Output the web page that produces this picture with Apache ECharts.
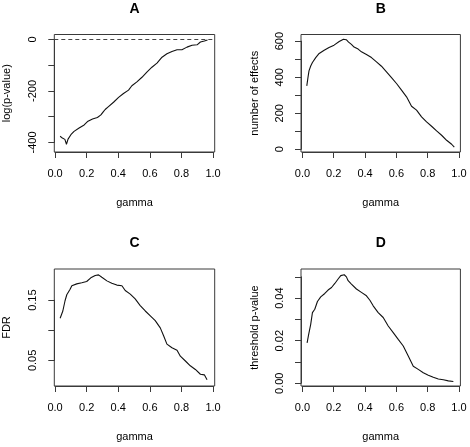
<!DOCTYPE html>
<html><head><meta charset="utf-8">
<script src="https://cdn.jsdelivr.net/npm/echarts@6/dist/echarts.min.js"></script>
<style>html,body{margin:0;padding:0;background:#fff}#c{width:470px;height:447px}</style>
</head><body><div id="c"></div>
<script>
// ---- data ----
const gammaA = [0.032,0.046,0.057,0.062,0.072,0.082,0.1,0.12,0.152,0.184,0.205,0.237,0.268,0.29,0.306,0.317,0.338,0.37,0.402,0.433,0.465,0.486,0.518,0.55,0.581,0.613,0.645,0.677,0.708,0.74,0.772,0.803,0.835,0.867,0.899,0.92,0.945,0.965];
const logP   = [-376,-383,-390,-388,-407,-387,-370,-357,-344,-332,-319,-309,-303,-293,-280,-272,-261,-244,-225,-210,-197,-180,-165,-147,-127,-108,-92,-69,-56,-47,-40,-40,-30,-23,-21,-10,-6,-2];

const gammaB = [0.028,0.035,0.042,0.053,0.064,0.085,0.107,0.139,0.17,0.202,0.235,0.262,0.28,0.295,0.313,0.33,0.356,0.377,0.409,0.441,0.473,0.505,0.537,0.569,0.601,0.633,0.665,0.697,0.729,0.761,0.793,0.825,0.857,0.889,0.921,0.953,0.97];
const effects = [352,395,435,462,482,509,532,550,565,578,598,611,608,595,582,567,556,541,526,509,485,461,430,398,365,328,291,239,217,180,152,128,102,78,50,28,12];

const gammaC = [0.032,0.049,0.063,0.074,0.095,0.106,0.137,0.169,0.2,0.226,0.254,0.275,0.296,0.328,0.359,0.391,0.423,0.444,0.476,0.507,0.539,0.571,0.603,0.634,0.666,0.687,0.708,0.74,0.772,0.793,0.825,0.856,0.888,0.92,0.945,0.962];
const fdr = [0.12,0.132,0.149,0.159,0.168,0.174,0.177,0.179,0.181,0.187,0.191,0.192,0.188,0.182,0.178,0.175,0.174,0.166,0.16,0.152,0.141,0.132,0.124,0.116,0.104,0.091,0.077,0.071,0.067,0.057,0.049,0.041,0.035,0.027,0.026,0.018];

const gammaD = [0.03,0.04,0.053,0.064,0.079,0.096,0.117,0.143,0.164,0.186,0.207,0.228,0.245,0.267,0.281,0.292,0.313,0.345,0.377,0.409,0.431,0.452,0.484,0.516,0.548,0.58,0.612,0.644,0.676,0.708,0.74,0.772,0.804,0.836,0.868,0.9,0.932,0.964];
const thresh = [0.019,0.023,0.0277,0.0332,0.0348,0.0384,0.0406,0.0422,0.0438,0.045,0.0469,0.049,0.0506,0.051,0.05,0.0482,0.0466,0.0443,0.0427,0.0411,0.039,0.0364,0.0332,0.0309,0.0269,0.0238,0.0206,0.0175,0.0128,0.008,0.0065,0.0049,0.0038,0.0028,0.002,0.0016,0.0011,0.0008];

const panelTitles = ['A','B','C','D'];
const yNames = ['log(p-value)','number of effects','FDR','threshold p-value'];
const xName = 'gamma';
const xTicks = {min:0, max:1, step:0.2};
const yTicksA = {min:-400, max:0, step:100};
const yTicksB = {min:0, max:600, step:100};
const yTicksC = {min:0.05, max:0.15, step:0.05};
const yTicksD = {min:0, max:0.05, step:0.01};

// ---- layout ----
const FONT = 'Liberation Sans, Arial, sans-serif';
const AX = '#3a3a3a';
const panels = [
  {box:[54.3,34.5,160.4,117.5], xr:[-0.005,1.0105], yr:[-437,19], yt:yTicksA, dec:0, gx:gammaA, gy:logP, nameGap:41.5, dashed:true},
  {box:[301,34.5,159.4,117.5], xr:[-0.009,1.009], yr:[-15,637], yt:yTicksB, dec:0, gx:gammaB, gy:effects, nameGap:40.5},
  {box:[54.3,269,160.4,117], xr:[-0.005,1.0105], yr:[0.0075,0.2017], yt:yTicksC, dec:2, gx:gammaC, gy:fdr, nameGap:41.5},
  {box:[301,269,159.4,117], xr:[-0.009,1.009], yr:[-0.0013,0.0537], yt:yTicksD, dec:2, gx:gammaD, gy:thresh, nameGap:40.5}
];

const grid=[], xAxis=[], yAxis=[], series=[], graphic=[];
const txt = {color:'#000', fontFamily:FONT, fontSize:11};
const hiddenAxis = (gi, min, max) => ({type:'value', gridIndex:gi, min, max, show:false});
panels.forEach((p,i)=>{
  const [L,T,W,H] = p.box;
  const g0 = grid.length;
  grid.push({left:L, top:T, width:W, height:H, show:true, borderColor:AX, borderWidth:1, backgroundColor:'transparent', containLabel:false, outerBoundsMode:'none'});
  const xs = W/(p.xr[1]-p.xr[0]);
  grid.push({left:L+(xTicks.min-p.xr[0])*xs, top:T, width:(xTicks.max-xTicks.min)*xs, height:H, containLabel:false, outerBoundsMode:'none'});
  const ys = H/(p.yr[1]-p.yr[0]);
  grid.push({left:L, top:T+(p.yr[1]-p.yt.max)*ys, width:W, height:(p.yt.max-p.yt.min)*ys, containLabel:false, outerBoundsMode:'none'});

  const xi = xAxis.length, yi = yAxis.length;
  xAxis.push({type:'value', gridIndex:g0, min:p.xr[0], max:p.xr[1], axisLine:{show:false}, axisTick:{show:false}, axisLabel:{show:false}, splitLine:{show:false},
    name:xName, nameLocation:'middle', nameGap:45, nameTextStyle:txt});
  yAxis.push({type:'value', gridIndex:g0, min:p.yr[0], max:p.yr[1], axisLine:{show:false}, axisTick:{show:false}, axisLabel:{show:false}, splitLine:{show:false},
    name:yNames[i], nameLocation:'middle', nameRotate:90, nameGap:p.nameGap, nameTextStyle:txt});
  xAxis.push({type:'value', gridIndex:g0+1, min:xTicks.min, max:xTicks.max, interval:xTicks.step, position:'bottom',
    axisLine:{show:true, lineStyle:{color:AX, width:1}}, axisTick:{show:true, length:6, lineStyle:{color:AX, width:1}},
    axisLabel:{...txt, margin:16.5, formatter:v=>v.toFixed(1)}, splitLine:{show:false}});
  yAxis.push(hiddenAxis(g0+1, 0, 1));
  xAxis.push(hiddenAxis(g0+2, 0, 1));
  const yt = p.yt;
  yAxis.push({type:'value', gridIndex:g0+2, min:yt.min, max:yt.max, interval:yt.step, position:'left',
    axisLine:{show:true, lineStyle:{color:AX, width:1}}, axisTick:{show:true, length:6, lineStyle:{color:AX, width:1}},
    axisLabel:{...txt, rotate:90, margin:15.5, showMinLabel:true, showMaxLabel:true,
      formatter:v=>{const k=Math.round((v-yt.min)/yt.step); return k%2===0 ? v.toFixed(p.dec) : '';}},
    splitLine:{show:false}});

  const s = {type:'line', xAxisIndex:xi, yAxisIndex:yi, data:p.gx.map((g,j)=>[g,p.gy[j]]), symbol:'none', showSymbol:false,
    lineStyle:{color:'#111', width:1.1}, animation:false, silent:true, z:3};
  if (p.dashed) s.markLine = {silent:true, symbol:['none','none'], label:{show:false}, animation:false,
    lineStyle:{color:'#444', type:[4,3], width:1}, data:[{yAxis:0}]};
  series.push(s);

  graphic.push({type:'text', x:L+W/2, y:(i<2?9.5:243.5), style:{text:panelTitles[i], fill:'#000', font:'bold 14px '+FONT, textAlign:'center', textVerticalAlign:'middle'}});
});

const chart = echarts.init(document.getElementById('c'), null, {renderer:'canvas'});
chart.setOption({animation:false, grid, xAxis, yAxis, series, graphic});
</script></body></html>
